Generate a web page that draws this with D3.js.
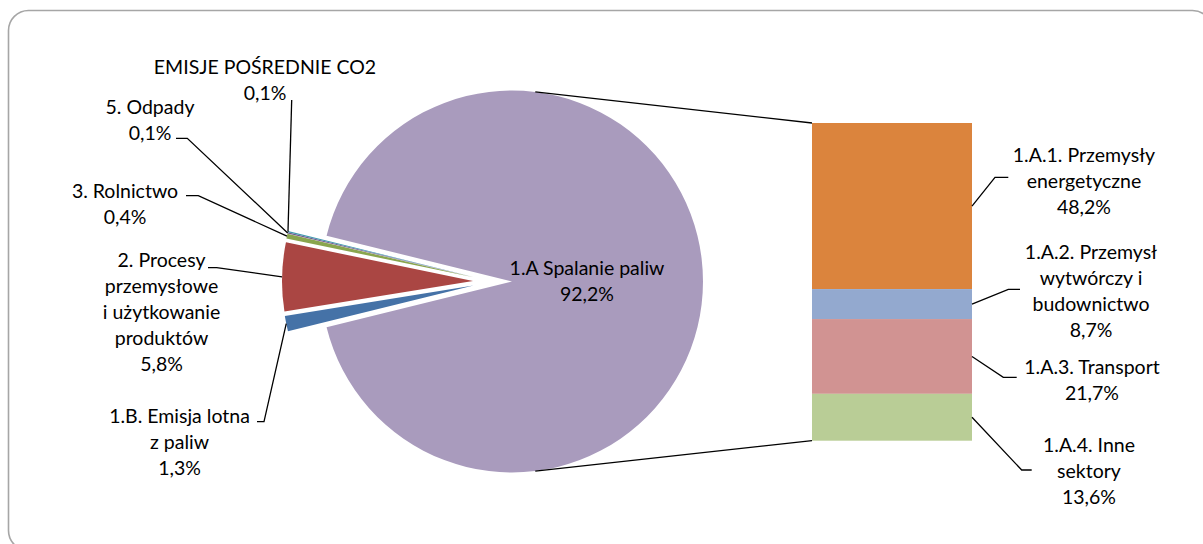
<!DOCTYPE html>
<html>
<head>
<meta charset="utf-8">
<script src="https://cdn.jsdelivr.net/npm/d3@7"></script>
<style>
  body { margin: 0; background: #fff; }
  svg { display: block; }
  text { font-family: Lato, "Open Sans", sans-serif; font-size: 19.5px; fill: #000; }
</style>
</head>
<body>
<svg id="chart" width="1203" height="544"></svg>
<script>
// Pie: emission shares by sector (percent of total)
const pieNames = [
  "1.B. Emisja lotna\nz paliw",
  "2. Procesy\nprzemysłowe\ni użytkowanie\nproduktów",
  "3. Rolnictwo",
  "5. Odpady",
  "EMISJE POŚREDNIE CO2",
  "1.A Spalanie paliw"
];
const pieValues = [1.3, 5.8, 0.4, 0.1, 0.1, 92.2];
const pieColors = ["#4572A7", "#AA4643", "#89A54E", "#71588F", "#4198AF", "#A99BBD"];

// Bar: breakdown of 1.A (fuel combustion)
const barNames = [
  "1.A.1. Przemysły\nenergetyczne",
  "1.A.2. Przemysł\nwytwórczy i\nbudownictwo",
  "1.A.3. Transport",
  "1.A.4. Inne\nsektory"
];
const barValues = [48.2, 8.7, 21.7, 13.6];
const barColors = ["#DB843D", "#93A9CF", "#D19392", "#B9CD96"];

const fmt = v => d3.format(".1f")(v).replace(".", ",") + "%";

const svg = d3.select("#chart");
const lineH = 26;

// outer frame
svg.append("rect")
  .attr("x", 8.5).attr("y", 10.5)
  .attr("width", 1204).attr("height", 540)
  .attr("rx", 20).attr("ry", 20)
  .attr("fill", "#fff").attr("stroke", "#A6A6A6").attr("stroke-width", 1.6);

// ---- pie ----
const cx = 492.5, cy = 281.5, R = 191, explode = 19.5;
const total = d3.sum(pieValues);
const mainIdx = pieValues.length - 1;
const smallFrac = (total - pieValues[mainIdx]) / total;
const a0 = 1.5 * Math.PI - smallFrac * Math.PI;

const pie = d3.pie().sort(null).value(d => d)
  .startAngle(a0).endAngle(a0 + 2 * Math.PI);
const arcs = pie(pieValues);
const arc = d3.arc().innerRadius(0).outerRadius(R);

const offset = d => {
  const m = (d.startAngle + d.endAngle) / 2;
  return [explode * Math.sin(m), -explode * Math.cos(m)];
};
const onRim = (d, a) => {
  const o = offset(d);
  return [cx + o[0] + R * Math.sin(a), cy + o[1] - R * Math.cos(a)];
};

const pieG = svg.append("g");
pieG.selectAll("path.slice")
  .data(arcs)
  .join("path")
  .attr("class", "slice")
  .attr("d", arc)
  .attr("fill", (d, i) => pieColors[i])
  .attr("transform", d => {
    const o = offset(d);
    return `translate(${cx + o[0]},${cy + o[1]})`;
  });

// ---- bar ----
const barX = 812, barW = 160;
const barTotal = d3.sum(barValues);
const yBar = d3.scaleLinear().domain([0, barTotal]).range([123, 440.7]);
const cum = d3.cumsum([0, ...barValues]);
const segs = barValues.map((v, i) => ({ v, i, y0: yBar(cum[i]), y1: yBar(cum[i + 1]) }));

svg.append("g").selectAll("rect")
  .data(segs)
  .join("rect")
  .attr("x", barX).attr("width", barW)
  .attr("y", d => d.y0).attr("height", d => d.y1 - d.y0)
  .attr("fill", d => barColors[d.i]);

// connectors from the 1.A slice to the bar
const mainArc = arcs[mainIdx];
const edgeA = 7 * Math.PI / 180;
const pTop = onRim(mainArc, edgeA);
const pBot = onRim(mainArc, Math.PI - edgeA);
const conn = svg.append("g").attr("stroke", "#000").attr("stroke-width", 1.3).attr("fill", "none");
conn.append("line").attr("x1", pTop[0]).attr("y1", pTop[1]).attr("x2", barX).attr("y2", yBar(0));
conn.append("line").attr("x1", pBot[0]).attr("y1", pBot[1]).attr("x2", barX).attr("y2", yBar(barTotal));

// ---- labels ----
function drawLabel(x, y, name, value) {
  const lines = name.split("\n").concat([fmt(value)]);
  const t = svg.append("text").attr("text-anchor", "middle");
  lines.forEach((ln, k) => {
    t.append("tspan").attr("x", x).attr("y", y + k * lineH).attr("dy", "0.35em").text(ln);
  });
}
const leader = d3.line();
const leaderG = svg.append("g").attr("stroke", "#000").attr("stroke-width", 1.3).attr("fill", "none");

// label placement for the pie slices: text centre, leader stub
const pieLabelLayout = [
  { x: 179.5, y: 416, stub: [[257, 421.7], [264, 421.7]] },
  { x: 161.5, y: 260, stub: [[208, 267.7], [216.7, 267.7]] },
  { x: 125,   y: 190.7, stub: [[186, 195.7], [198.3, 195.7]] },
  { x: 150,   y: 106.7, stub: [[176, 138.3], [187.3, 138.3]] },
  { x: 265,   y: 67, stub: [[291.7, 100]] },
  { x: 587,   y: 268, stub: null }
];
arcs.forEach((d, i) => {
  const L = pieLabelLayout[i];
  drawLabel(L.x, L.y, pieNames[i], pieValues[i]);
  if (L.stub) {
    const anchor = onRim(d, (d.startAngle + d.endAngle) / 2);
    leaderG.append("path").attr("d", leader(L.stub.concat([anchor])));
  }
});

// label placement for the bar segments
const barLabelLayout = [
  { x: 1084, y: 155, stub: [[1008.3, 177.3], [995, 177.3]] },
  { x: 1091, y: 252, stub: [[1020, 289.3], [1008.3, 289.3]] },
  { x: 1092, y: 367, stub: [[1016.7, 377.3], [1003.3, 377.3]] },
  { x: 1089, y: 445, stub: [[1031.7, 470], [1021.7, 470]] }
];
segs.forEach((s, i) => {
  const L = barLabelLayout[i];
  drawLabel(L.x, L.y, barNames[i], barValues[i]);
  const anchor = [barX + barW, (s.y0 + s.y1) / 2];
  leaderG.append("path").attr("d", leader(L.stub.concat([anchor])));
});
</script>
</body>
</html>
